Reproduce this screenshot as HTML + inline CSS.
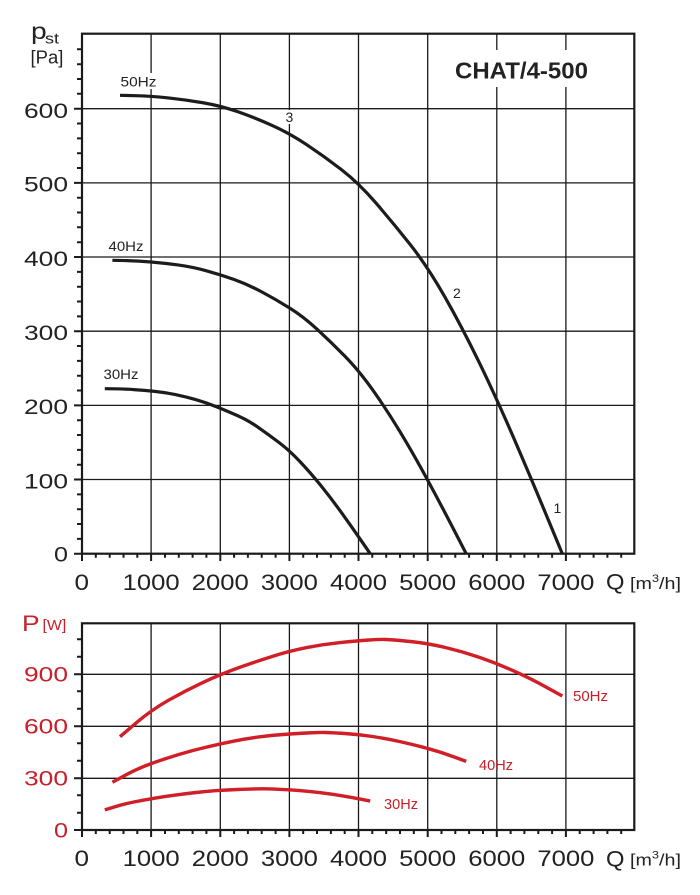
<!DOCTYPE html>
<html>
<head>
<meta charset="utf-8">
<style>
html,body{margin:0;padding:0;background:#fff;}
svg{display:block;}
text{font-family:"Liberation Sans",Arial,sans-serif;}
</style>
</head>
<body>
<svg width="700" height="895" viewBox="0 0 700 895" xmlns="http://www.w3.org/2000/svg">
<rect x="0" y="0" width="700" height="895" fill="#fff"/>

<!-- ================= TOP CHART ================= -->
<g stroke="#1a1a1a" stroke-width="1.3" fill="none">
  <path d="M151.1 34V561 M220.3 34V561 M289.4 34V561 M358.5 34V561 M427.7 34V561 M496.8 34V561 M565.9 34V561"/>
  <path d="M74 479.5H634 M74 405.4H634 M74 331.2H634 M74 257H634 M74 182.9H634 M74 108.7H634"/>
</g>
<g stroke="#1a1a1a" stroke-width="2" fill="none">
  <path d="M74 479.5H82 M74 405.4H82 M74 331.2H82 M74 257H82 M74 182.9H82 M74 108.7H82 M74 553.7H82"/>
  <path d="M82 553.7V561 M151.1 553.7V561 M220.3 553.7V561 M289.4 553.7V561 M358.5 553.7V561 M427.7 553.7V561 M496.8 553.7V561 M565.9 553.7V561"/>
  <path d="M77 538.9H82 M77 524H82 M77 509.2H82 M77 494.4H82 M77 464.7H82 M77 449.9H82 M77 435H82 M77 420.2H82 M77 390.5H82 M77 375.7H82 M77 360.9H82 M77 346H82 M77 316.4H82 M77 301.5H82 M77 286.7H82 M77 271.9H82 M77 242.2H82 M77 227.3H82 M77 212.5H82 M77 197.7H82 M77 168H82 M77 153.2H82 M77 138.4H82 M77 123.5H82 M77 93.8H82 M77 79H82 M77 64.2H82 M77 49.3H82"/>
  <path d="M95.8 553.7v4 M109.7 553.7v4 M123.5 553.7v4 M137.3 553.7v4 M165 553.7v4 M178.8 553.7v4 M192.6 553.7v4 M206.4 553.7v4 M234.1 553.7v4 M247.9 553.7v4 M261.7 553.7v4 M275.6 553.7v4 M303.2 553.7v4 M317 553.7v4 M330.9 553.7v4 M344.7 553.7v4 M372.3 553.7v4 M386.2 553.7v4 M400 553.7v4 M413.8 553.7v4 M441.5 553.7v4 M455.3 553.7v4 M469.1 553.7v4 M483 553.7v4 M510.6 553.7v4 M524.4 553.7v4 M538.3 553.7v4 M552.1 553.7v4 M579.7 553.7v4 M593.6 553.7v4 M607.4 553.7v4 M621.2 553.7v4"/>
</g>
<rect x="82" y="33.7" width="552.3" height="520" fill="none" stroke="#1a1a1a" stroke-width="2.2"/>

<rect x="446" y="50" width="152" height="37" fill="#fff"/>
<text x="455" y="78.3" font-size="23" font-weight="bold" fill="#222" textLength="133" lengthAdjust="spacingAndGlyphs">CHAT/4-500</text>

<g stroke="#1c1c1c" stroke-width="3.2" fill="none" stroke-linejoin="round">
  <path d="M120,95.3 L135.55,95.7 Q151.1,96.1 168.4,97.95 Q185.7,99.8 203,102.75 Q220.3,105.7 237.55,111.65 Q254.8,117.6 272.1,125.4 Q289.4,133.2 306.7,144.7 Q324,156.2 341.25,169.5 Q358.5,182.8 375.8,202.85 Q393.1,222.9 410.4,244.8 Q427.7,266.7 444.95,297.1 Q462.2,327.5 479.5,363.1 Q496.8,398.7 514.05,438.75 Q531.3,478.8 546.8,516.25 L562.3,553.7"/>
  <path d="M112.4,260.3 L124.85,260.55 Q137.3,260.8 151.15,262 Q165,263.2 178.8,265.1 Q192.6,267 206.45,270.8 Q220.3,274.6 234.1,279.55 Q247.9,284.5 261.75,291.9 Q275.6,299.3 289.4,307.85 Q303.2,316.4 317.05,329.2 Q330.9,342 344.7,356 Q358.5,370 372.35,389.45 Q386.2,408.9 400,431.7 Q413.8,454.5 427.65,480.15 Q441.5,505.8 453.85,529.75 L466.2,553.7"/>
  <path d="M104.8,388.7 L114.15,388.8 Q123.5,388.9 133.85,389.6 Q144.2,390.3 154.6,391.35 Q165,392.4 175.35,394.55 Q185.7,396.7 196.05,399.7 Q206.4,402.7 216.8,406.9 Q227.2,411.1 237.55,415.65 Q247.9,420.2 258.25,427.4 Q268.6,434.6 279,442.5 Q289.4,450.4 299.75,461.35 Q310.1,472.3 320.5,485.1 Q330.9,497.9 341.25,512.3 Q351.6,526.7 360.9,540.2 L370.2,553.7"/>
</g>

<rect x="118" y="73" width="40" height="16" fill="#fff"/>
<text x="120.5" y="86.5" font-size="14" fill="#222" textLength="36" lengthAdjust="spacingAndGlyphs">50Hz</text>
<text x="108.5" y="251" font-size="14" fill="#222" textLength="35" lengthAdjust="spacingAndGlyphs">40Hz</text>
<text x="103.5" y="379" font-size="14" fill="#222" textLength="35" lengthAdjust="spacingAndGlyphs">30Hz</text>
<rect x="284" y="110" width="12" height="14" fill="#fff"/>
<text x="285.5" y="122" font-size="14" fill="#222">3</text>
<text x="453" y="298" font-size="14" fill="#222">2</text>
<text x="553.5" y="513" font-size="14" fill="#222">1</text>

<g font-size="21" fill="#222">
  <text x="24" y="118.2" textLength="44" lengthAdjust="spacingAndGlyphs">600</text>
  <text x="24" y="191.7" textLength="44" lengthAdjust="spacingAndGlyphs">500</text>
  <text x="24" y="265.8" textLength="44" lengthAdjust="spacingAndGlyphs">400</text>
  <text x="24" y="340" textLength="44" lengthAdjust="spacingAndGlyphs">300</text>
  <text x="24" y="414.2" textLength="44" lengthAdjust="spacingAndGlyphs">200</text>
  <text x="24" y="488.3" textLength="44" lengthAdjust="spacingAndGlyphs">100</text>
  <text x="54" y="561.5" textLength="14" lengthAdjust="spacingAndGlyphs">0</text>
</g>
<g font-size="22.5" fill="#222">
  <text x="74.5" y="590" textLength="14.5" lengthAdjust="spacingAndGlyphs">0</text>
  <text x="122.6" y="590" textLength="57" lengthAdjust="spacingAndGlyphs">1000</text>
  <text x="191.8" y="590" textLength="57" lengthAdjust="spacingAndGlyphs">2000</text>
  <text x="260.9" y="590" textLength="57" lengthAdjust="spacingAndGlyphs">3000</text>
  <text x="330" y="590" textLength="57" lengthAdjust="spacingAndGlyphs">4000</text>
  <text x="399.2" y="590" textLength="57" lengthAdjust="spacingAndGlyphs">5000</text>
  <text x="468.3" y="590" textLength="57" lengthAdjust="spacingAndGlyphs">6000</text>
  <text x="537.4" y="590" textLength="57" lengthAdjust="spacingAndGlyphs">7000</text>
  <text x="606" y="589.5" textLength="18.5" lengthAdjust="spacingAndGlyphs">Q</text>
</g>
<g transform="translate(630,589) scale(1.16,1)" fill="#222">
  <text x="0" y="0" font-size="17">[m<tspan font-size="11" dy="-7">3</tspan><tspan dy="7">/h]</tspan></text>
</g>
<g transform="translate(31,39) scale(1.2,1)" fill="#222">
  <text x="0" y="0" font-size="23.5">p</text>
</g>
<g transform="translate(45,43.3) scale(1.2,1)" fill="#222">
  <text x="0" y="0" font-size="15">st</text>
</g>
<text x="30.5" y="63.5" font-size="18.5" fill="#222">[Pa]</text>

<!-- ================= BOTTOM CHART ================= -->
<g stroke="#1a1a1a" stroke-width="1.3" fill="none">
  <path d="M151.1 624V837 M220.3 624V837 M289.4 624V837 M358.5 624V837 M427.7 624V837 M496.8 624V837 M565.9 624V837"/>
  <path d="M74 674.3H634 M74 726.3H634 M74 778.3H634"/>
</g>
<g stroke="#1a1a1a" stroke-width="2" fill="none">
  <path d="M74 674.3H82 M74 726.3H82 M74 778.3H82 M74 830H82"/>
  <path d="M82 830V837 M151.1 830V837 M220.3 830V837 M289.4 830V837 M358.5 830V837 M427.7 830V837 M496.8 830V837 M565.9 830V837"/>
  <path d="M77 639.3H82 M77 656.7H82 M77 691.3H82 M77 708.7H82 M77 743.3H82 M77 760.7H82 M77 795.3H82 M77 812.7H82"/>
  <path d="M95.8 830v4 M109.7 830v4 M123.5 830v4 M137.3 830v4 M165 830v4 M178.8 830v4 M192.6 830v4 M206.4 830v4 M234.1 830v4 M247.9 830v4 M261.7 830v4 M275.6 830v4 M303.2 830v4 M317 830v4 M330.9 830v4 M344.7 830v4 M372.3 830v4 M386.2 830v4 M400 830v4 M413.8 830v4 M441.5 830v4 M455.3 830v4 M469.1 830v4 M483 830v4 M510.6 830v4 M524.4 830v4 M538.3 830v4 M552.1 830v4 M579.7 830v4 M593.6 830v4 M607.4 830v4 M621.2 830v4"/>
</g>
<rect x="82" y="623.3" width="552.3" height="206.7" fill="none" stroke="#1a1a1a" stroke-width="2.2"/>

<g stroke="#d01f26" stroke-width="3.4" fill="none" stroke-linejoin="round">
  <path d="M120,736.7 L135.55,723.4 Q151.1,710.1 168.4,700.3 Q185.7,690.5 203,682.4 Q220.3,674.3 237.55,668.1 Q254.8,661.9 272.1,656.45 Q289.4,651 306.7,647.6 Q324,644.2 341.25,642.45 Q358.5,640.7 368.9,640 Q379.3,639.3 386.2,639.5 Q393.1,639.7 410.4,641.5 Q427.7,643.3 444.95,647.4 Q462.2,651.5 479.5,657.4 Q496.8,663.3 514.05,671.1 Q531.3,678.9 546.8,687.45 L562.3,696"/>
  <path d="M112.4,782.3 L124.85,775.45 Q137.3,768.6 151.15,763.6 Q165,758.6 178.8,754.45 Q192.6,750.3 206.45,747.1 Q220.3,743.9 234.1,741.1 Q247.9,738.3 261.75,736.6 Q275.6,734.9 289.4,734 Q303.2,733.1 311.5,732.75 Q319.8,732.4 325.35,732.5 Q330.9,732.6 344.7,733.5 Q358.5,734.4 372.35,736.5 Q386.2,738.6 400,741.6 Q413.8,744.6 427.65,748.45 Q441.5,752.3 453.85,756.85 L466.2,761.4"/>
  <path d="M104.8,809.9 L114.15,807 Q123.5,804.1 133.85,802 Q144.2,799.9 154.6,798.15 Q165,796.4 175.35,795.05 Q185.7,793.7 196.05,792.5 Q206.4,791.3 216.8,790.6 Q227.2,789.9 237.55,789.5 Q247.9,789.1 254.15,788.95 Q260.4,788.8 264.5,788.85 Q268.6,788.9 279,789.3 Q289.4,789.7 299.75,790.55 Q310.1,791.4 320.5,792.7 Q330.9,794 341.25,795.65 Q351.6,797.3 360.9,799.2 L370.2,801.1"/>
</g>
<g font-size="15" fill="#c8202a">
  <text x="573" y="701" textLength="35" lengthAdjust="spacingAndGlyphs">50Hz</text>
  <text x="479" y="770" textLength="34" lengthAdjust="spacingAndGlyphs">40Hz</text>
  <text x="384" y="809" textLength="34" lengthAdjust="spacingAndGlyphs">30Hz</text>
</g>

<g font-size="21" fill="#c8202a">
  <text x="24" y="681.7" textLength="44" lengthAdjust="spacingAndGlyphs">900</text>
  <text x="24" y="733.7" textLength="44" lengthAdjust="spacingAndGlyphs">600</text>
  <text x="24" y="785.7" textLength="44" lengthAdjust="spacingAndGlyphs">300</text>
  <text x="54" y="837.5" textLength="14" lengthAdjust="spacingAndGlyphs">0</text>
</g>
<g transform="translate(22,631) scale(1.2,1)" fill="#c8202a">
  <text x="0" y="0" font-size="22">P</text>
</g>
<g transform="translate(42.5,630) scale(1.06,1)" fill="#c8202a">
  <text x="0" y="0" font-size="15">[W]</text>
</g>

<g font-size="22.5" fill="#222">
  <text x="74.5" y="866" textLength="14.5" lengthAdjust="spacingAndGlyphs">0</text>
  <text x="122.6" y="866" textLength="57" lengthAdjust="spacingAndGlyphs">1000</text>
  <text x="191.8" y="866" textLength="57" lengthAdjust="spacingAndGlyphs">2000</text>
  <text x="260.9" y="866" textLength="57" lengthAdjust="spacingAndGlyphs">3000</text>
  <text x="330" y="866" textLength="57" lengthAdjust="spacingAndGlyphs">4000</text>
  <text x="399.2" y="866" textLength="57" lengthAdjust="spacingAndGlyphs">5000</text>
  <text x="468.3" y="866" textLength="57" lengthAdjust="spacingAndGlyphs">6000</text>
  <text x="537.4" y="866" textLength="57" lengthAdjust="spacingAndGlyphs">7000</text>
  <text x="606" y="866.5" textLength="18.5" lengthAdjust="spacingAndGlyphs">Q</text>
</g>
<g transform="translate(630,865.7) scale(1.16,1)" fill="#222">
  <text x="0" y="0" font-size="17">[m<tspan font-size="11" dy="-7">3</tspan><tspan dy="7">/h]</tspan></text>
</g>
</svg>
</body>
</html>
